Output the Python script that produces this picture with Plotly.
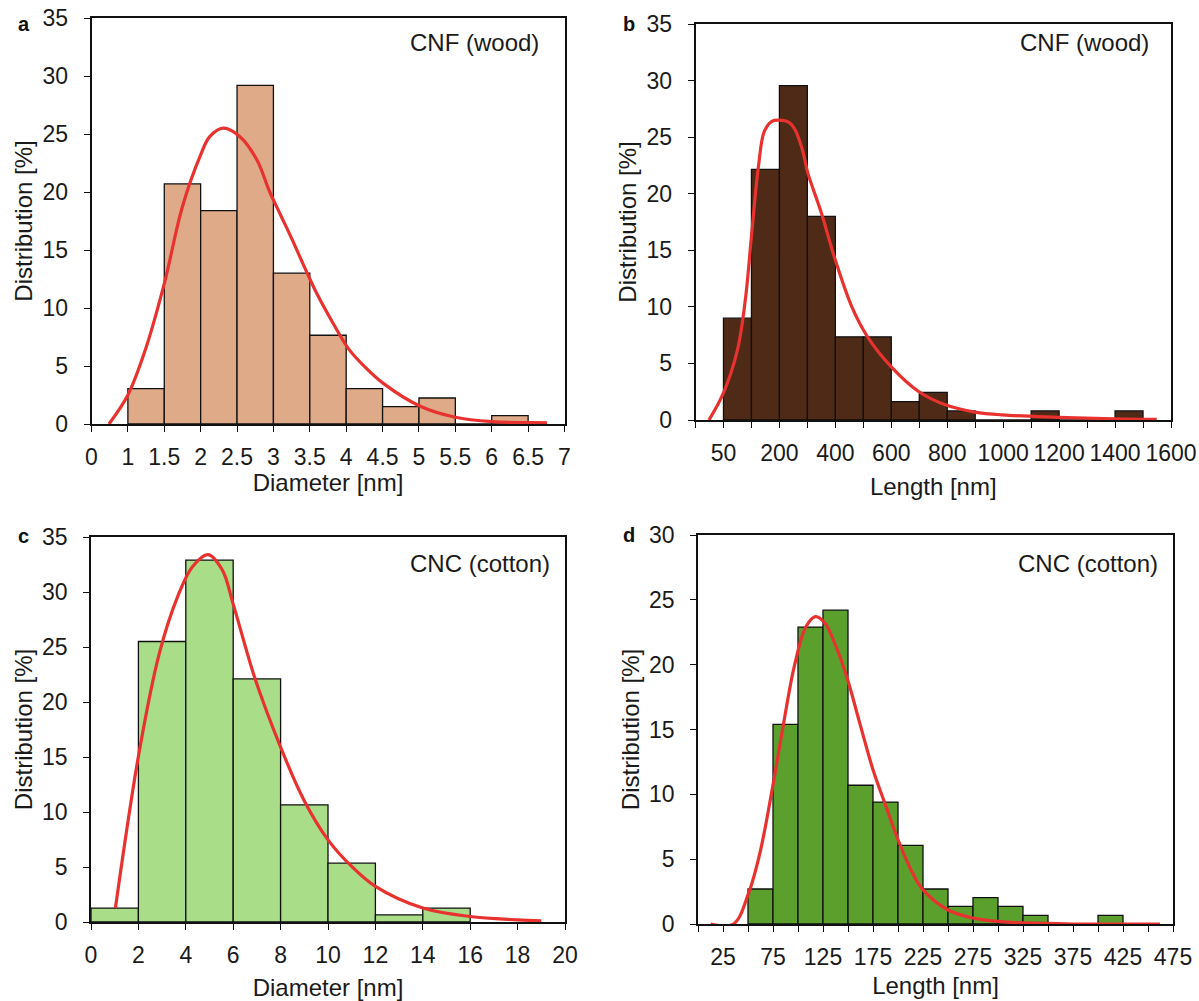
import plotly.graph_objects as go

# ---------------- data ----------------
# Panel a: CNF (wood) diameter
a_bin_left = [1.0, 1.5, 2.0, 2.5, 3.0, 3.5, 4.0, 4.5, 5.0, 5.5, 6.0]
a_values = [3.05, 20.7, 18.4, 29.2, 13.0, 7.65, 3.05, 1.5, 2.24, 0.0, 0.72]
a_bin_width = 0.5
a_fit_x = [0.74, 1.0, 1.24, 1.5, 1.75, 2.0, 2.125, 2.31, 2.54, 2.77, 2.95, 3.1, 3.25, 3.45,
           3.6, 3.8, 4.03, 4.26, 4.51, 5.01, 5.5, 6.01, 6.53, 6.76]
a_fit_y = [0.0, 2.5, 6.4, 12.1, 18.75, 23.2, 24.77, 25.5, 24.77, 22.8, 20.0, 18.0, 16.0, 13.2,
           11.2, 8.9, 6.5, 4.9, 3.5, 1.55, 0.58, 0.2, 0.12, 0.09]
a_tickvals = [0.5, 1, 1.5, 2, 2.5, 3, 3.5, 4, 4.5, 5, 5.5, 6, 6.5, 7]
a_ticktext = ["0", "1", "1.5", "2", "2.5", "3", "3.5", "4", "4.5", "5", "5.5", "6", "6.5", "7"]

# Panel b: CNF (wood) length
b_bin_left = [0, 100, 200, 300, 400, 500, 600, 700, 800, 900, 1000, 1100, 1200, 1300, 1400]
b_values = [9.0, 22.15, 29.55, 18.0, 7.35, 7.35, 1.62, 2.45, 0.8, 0.0, 0.0, 0.8, 0.0, 0.0, 0.8]
b_bin_width = 100
b_fit_x = [-52, 0, 50, 78, 101, 125, 146, 173, 199, 234, 255, 282, 302, 350, 399, 459, 514,
           600, 699, 798, 899, 997, 1198, 1396, 1549]
b_fit_y = [0.0, 2.4, 6.2, 10.6, 16.5, 22.4, 25.5, 26.4, 26.5, 26.3, 25.7, 23.9, 21.8, 18.3,
           14.2, 10.0, 7.4, 4.7, 2.5, 1.3, 0.7, 0.45, 0.24, 0.1, 0.05]
b_tickvals = [-100, 0, 100, 200, 300, 400, 500, 600, 700, 800, 900, 1000, 1100, 1200, 1300,
              1400, 1500, 1600]
b_ticktext = ["", "50", "", "200", "", "400", "", "600", "", "800", "", "1000", "", "1200", "",
              "1400", "", "1600"]

# Panel c: CNC (cotton) diameter
c_bin_left = [0, 2, 4, 6, 8, 10, 12, 14]
c_values = [1.27, 25.5, 32.9, 22.1, 10.65, 5.35, 0.64, 1.27]
c_bin_width = 2
c_fit_x = [1.03, 2.02, 2.88, 3.66, 4.28, 4.94, 5.54, 6.0, 6.94, 8.0, 8.98, 10.0, 11.0, 12.0,
           14.0, 16.0, 18.0, 19.0]
c_fit_y = [1.27, 15.3, 24.4, 29.6, 32.3, 33.4, 32.0, 28.9, 22.0, 15.9, 11.1, 7.47, 5.05, 3.24,
           1.27, 0.5, 0.2, 0.1]
c_tickvals = [0, 2, 4, 6, 8, 10, 12, 14, 16, 18, 20]
c_ticktext = ["0", "2", "4", "6", "8", "10", "12", "14", "16", "18", "20"]

# Panel d: CNC (cotton) length
d_bin_left = [50, 75, 100, 125, 150, 175, 200, 225, 250, 275, 300, 325, 350, 375, 400]
d_values = [2.7, 15.4, 22.9, 24.2, 10.7, 9.4, 6.06, 2.7, 1.36, 2.03, 1.36, 0.67, 0.0, 0.0, 0.67]
d_bin_width = 25
d_fit_x = [12.6, 35.5, 50.7, 62, 74.7, 85, 96.4, 107.8, 117.4, 127, 138, 149.8, 161, 175, 188,
           200, 214.6, 224.8, 249.6, 274.7, 299.5, 325, 374.6, 462]
d_fit_y = [0.0, 0.0, 2.4, 5.5, 10.6, 15.2, 19.9, 22.9, 23.7, 23.2, 21.4, 18.8, 15.7, 11.9, 9.07,
           6.5, 3.93, 2.65, 1.1, 0.46, 0.2, 0.08, 0.0, 0.0]
d_tickvals = [0, 25, 50, 75, 100, 125, 150, 175, 200, 225, 250, 275, 300, 325, 350, 375, 400,
              425, 450, 475]
d_ticktext = ["", "25", "", "75", "", "125", "", "175", "", "225", "", "275", "", "325", "",
              "375", "", "425", "", "475"]

panel_letters = ["a", "b", "c", "d"]
panel_labels = ["CNF (wood)", "CNF (wood)", "CNC (cotton)", "CNC (cotton)"]
x_titles = ["Diameter [nm]", "Length [nm]", "Diameter [nm]", "Length [nm]"]
y_title = "Distribution [%]"

# ---------------- styling ----------------
W, H = 1199, 1001
FONT = "Liberation Sans, Arial, sans-serif"
RED = "#E8322F"
bar_colors = ["#DEAA88", "#4F2A16", "#A9DD88", "#5BA02C"]

# plot areas in pixels: (x0, x1, ytop, ybottom)
areas = [(91.5, 564.5, 18, 424), (695.5, 1171, 24, 420), (91, 565, 537, 922),
         (698, 1173, 535, 924)]
xranges = [[0.5, 7], [-100, 1600], [0, 20], [0, 475]]
yranges = [[0, 35], [0, 35], [0, 35], [0, 30]]
ticks_x = [(a_tickvals, a_ticktext), (b_tickvals, b_ticktext), (c_tickvals, c_ticktext),
           (d_tickvals, d_ticktext)]
bins = [(a_bin_left, a_values, a_bin_width), (b_bin_left, b_values, b_bin_width),
        (c_bin_left, c_values, c_bin_width), (d_bin_left, d_values, d_bin_width)]
fits = [(a_fit_x, a_fit_y), (b_fit_x, b_fit_y), (c_fit_x, c_fit_y), (d_fit_x, d_fit_y)]
xtitle_shift = [3, 14, 13, 9]
label_pos = [(541, 42), (1151, 42), (552, 563), (1160, 563)]
letter_pos = [(24, 24), (629, 24), (23, 536), (629, 535)]

fig = go.Figure()
layout = dict(width=W, height=H, margin=dict(l=0, r=0, t=0, b=0, autoexpand=False),
              paper_bgcolor="white", plot_bgcolor="white", showlegend=False,
              font=dict(family=FONT, size=23, color="#1a1a1a"), annotations=[])

for i in range(4):
    sfx = "" if i == 0 else str(i + 1)
    xa, ya = "x" + sfx, "y" + sfx
    left, vals, bw = bins[i]
    centers = [l + bw / 2 for l in left]
    fig.add_trace(go.Bar(x=centers, y=vals, width=[bw] * len(vals), xaxis=xa, yaxis=ya,
                         marker=dict(color=bar_colors[i], line=dict(color="#111", width=1.3)),
                         hoverinfo="x+y"))
    fx, fy = fits[i]
    fig.add_trace(go.Scatter(x=fx, y=fy, mode="lines", xaxis=xa, yaxis=ya,
                             line=dict(color=RED, width=3.2, shape="spline", smoothing=1.0),
                             cliponaxis=False))
    x0, x1, yt, yb = areas[i]
    tv, tt = ticks_x[i]
    layout["xaxis" + sfx] = dict(
        domain=[x0 / W, x1 / W], anchor=ya, range=xranges[i], tickvals=tv, ticktext=tt,
        ticks="outside", ticklen=6, tickwidth=1.3, tickcolor="#111", showgrid=False,
        zeroline=False, showline=True, linecolor="#111", linewidth=1.8, mirror=True,
        ticklabelstandoff=5, tickangle=0, automargin=False, tickfont=dict(size=23),
        title=dict(text=x_titles[i], font=dict(size=24), standoff=xtitle_shift[i]))
    layout["yaxis" + sfx] = dict(
        domain=[1 - yb / H, 1 - yt / H], anchor=xa, range=yranges[i], dtick=5,
        ticks="outside", ticklen=6, tickwidth=1.3, tickcolor="#111", showgrid=False,
        zeroline=False, showline=True, linecolor="#111", linewidth=1.6, mirror=True,
        ticklabelstandoff=11, automargin=False, tickfont=dict(size=23),
        title=dict(text=y_title, font=dict(size=24), standoff=3))
    lx, ly = label_pos[i]
    layout["annotations"].append(dict(
        text=panel_labels[i], xref="paper", yref="paper", x=lx / W, y=1 - ly / H,
        xanchor="right", yanchor="middle", showarrow=False,
        font=dict(size=24, color="#1a1a1a")))
    px, py = letter_pos[i]
    layout["annotations"].append(dict(
        text="<b>" + panel_letters[i] + "</b>", xref="paper", yref="paper",
        x=px / W, y=1 - py / H, xanchor="center", yanchor="middle",
        showarrow=False, font=dict(size=20, color="#111")))

fig.update_layout(**layout)
fig.write_html("out.html", config={"displayModeBar": False},
               post_script="document.body.style.margin='0';document.body.style.overflow='hidden';")
